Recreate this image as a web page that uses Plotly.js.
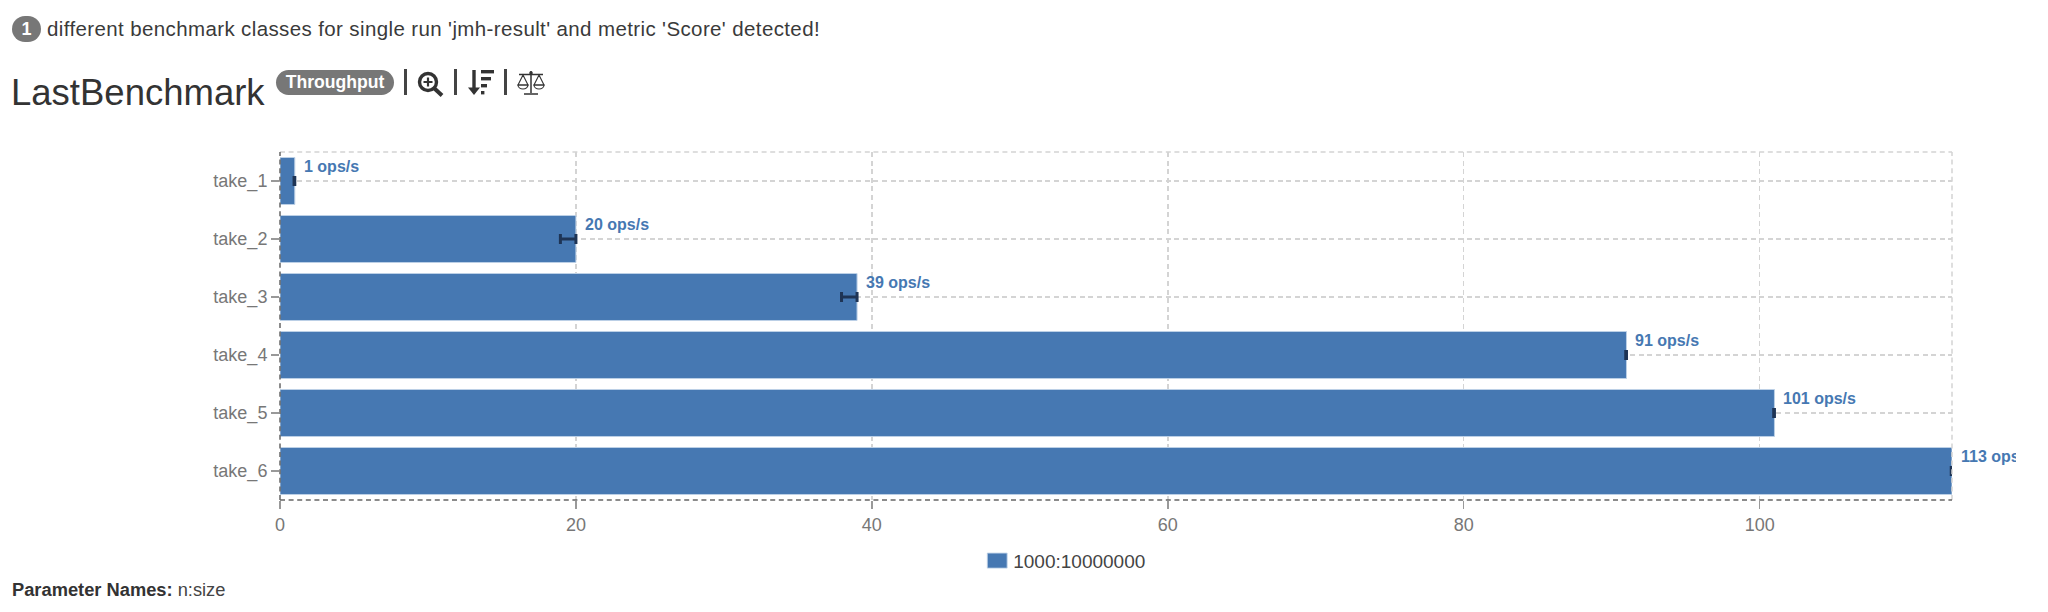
<!DOCTYPE html>
<html>
<head>
<meta charset="utf-8">
<script src="https://cdn.plot.ly/plotly-3.0.1.min.js"></script>
<style>
html,body{margin:0;padding:0;background:#fff;width:2048px;height:612px;overflow:hidden;font-family:"Liberation Sans",Arial,sans-serif;color:#333}
#chart{position:absolute;left:0;top:0;width:2016px;height:612px}
.abs{position:absolute;white-space:nowrap}
.badge{background:#777;color:#fff;font-weight:bold;text-align:center}
.sep{position:absolute;background:#444;width:3px;top:69px;height:26px}
svg.icon{position:absolute}
</style>
</head>
<body>
<div id="chart"></div>
<div class="abs badge" style="left:12px;top:16px;width:29px;height:26px;line-height:26px;border-radius:13px;font-size:18px">1</div>
<div class="abs" id="lead" style="left:47px;top:18px;font-size:20.5px;letter-spacing:0.38px;line-height:22px;color:#3a3a3a">different benchmark classes for single run 'jmh-result' and metric 'Score' detected!</div>
<div class="abs" id="ttl" style="left:11px;top:72px;font-size:36.5px;line-height:42px">LastBenchmark</div>
<div class="abs badge" style="left:276px;top:70px;width:118px;height:25px;line-height:25px;border-radius:13px;font-size:17.6px">Throughput</div>
<div class="sep" style="left:404px"></div>
<svg class="icon" style="left:416px;top:70px" width="30" height="27" viewBox="0 0 30 27">
  <circle cx="12" cy="12" r="8.5" fill="none" stroke="#333" stroke-width="3.4"/>
  <path d="M7.5 12H16.5M12 7.5V16.5" stroke="#333" stroke-width="2.2"/>
  <path d="M18.5 18.5L26 25.5" stroke="#333" stroke-width="4"/>
</svg>
<div class="sep" style="left:454px"></div>
<svg class="icon" style="left:466px;top:68px" width="30" height="29" viewBox="0 0 30 29">
  <path d="M8 2V24" stroke="#333" stroke-width="3.4"/>
  <path d="M2 19.5L8 27L14 19.5Z" fill="#333"/>
  <rect x="15" y="2" width="13" height="3.4" fill="#333"/>
  <rect x="15" y="9" width="10" height="3.4" fill="#333"/>
  <rect x="15" y="16" width="6" height="3.4" fill="#333"/>
  <rect x="15" y="23" width="3.4" height="3.4" fill="#333"/>
</svg>
<div class="sep" style="left:504px"></div>
<svg class="icon" style="left:516px;top:69px" width="30" height="27" viewBox="0 0 30 27">
  <path d="M15 2V24M8 25H22M3 5.5H27" stroke="#333" stroke-width="1.5" fill="none"/>
  <circle cx="15" cy="4" r="1.8" fill="#333"/>
  <path d="M7 6L2 16H12ZM23 6L18 16H28Z" stroke="#333" stroke-width="1.1" fill="none"/>
  <path d="M2 16A5 4 0 0 0 12 16ZM18 16A5 4 0 0 0 28 16Z" stroke="#333" stroke-width="1.1" fill="none"/>
</svg>
<div class="abs" id="pn" style="left:12px;top:580px;font-size:18.3px;line-height:20px"><b>Parameter Names:</b> <span style="color:#444">n:size</span></div>
<script>
const categories = ['take_1','take_2','take_3','take_4','take_5','take_6'];
const scores = [1, 20, 39, 91, 101, 113];
const errorsMinus = [0.05, 1.05, 1.05, 0.05, 0.05, 0.05];
const errorsPlus = [0, 0, 0, 0, 0, 0];
const seriesName = '1000:10000000';
const unit = 'ops/s';
const xTicks = [0, 20, 40, 60, 80, 100];

const BLUE = '#4678b2', GRID = '#d4d4d4', AXIS = '#666', DASH = '5px,3.6px';

const annotations = scores.map((v, i) => ({
  x: v, y: categories[i], xref: 'x', yref: 'y',
  text: '<b>' + v + ' ' + unit + '</b>', showarrow: false,
  xanchor: 'left', yanchor: 'middle', xshift: 8, yshift: 15,
  font: {family: '"Liberation Sans", Arial, sans-serif', size: 16, color: BLUE},
  borderpad: 0,
  captureevents: false
}));

const edge = (x0, y0, x1, y1, color) => ({
  type: 'line', xref: 'paper', yref: 'paper', x0, y0, x1, y1, layer: 'above',
  line: {color, width: 1.5, dash: DASH}
});

Plotly.newPlot('chart', [{
  type: 'bar', orientation: 'h', name: seriesName,
  x: scores, y: categories, width: 0.81,
  cliponaxis: false, showlegend: true,
  marker: {color: BLUE, line: {color: '#bcd0e6', width: 1}},
  error_x: {type: 'data', symmetric: false, array: errorsPlus, arrayminus: errorsMinus,
            color: '#1e3455', thickness: 3, width: 5}
}], {
  width: 2016, height: 612,
  margin: {l: 280, r: 64, t: 152, b: 112, pad: 0},
  paper_bgcolor: '#fff', plot_bgcolor: '#fff',
  font: {family: '"Liberation Sans", Arial, sans-serif', color: '#777', size: 17},
  bargap: 0.19,
  xaxis: {range: [0, 113], tickmode: 'array', tickvals: xTicks, ticks: 'outside', ticklen: 8, tickwidth: 1.5,
          tickcolor: '#999', tickfont: {size: 18, color: '#777'}, zeroline: false, showline: false,
          showgrid: true, gridcolor: GRID, gridwidth: 1.5, griddash: DASH, fixedrange: true},
  yaxis: {type: 'category', categoryorder: 'array', categoryarray: categories, range: [5.5, -0.5],
          ticks: 'outside', ticklen: 8, tickwidth: 1.5, tickcolor: '#999',
          tickfont: {size: 18, color: '#777'}, zeroline: false, showline: false,
          showgrid: true, gridcolor: GRID, gridwidth: 1.5, griddash: DASH, fixedrange: true},
  legend: {orientation: 'h', x: 0.417, xanchor: 'left', y: -0.12, yanchor: 'top',
           font: {size: 19, color: '#444'}, bgcolor: 'rgba(0,0,0,0)', itemclick: false, itemdoubleclick: false},
  annotations,
  shapes: [
    edge(0, 1, 1, 1, GRID),
    edge(1, 0, 1, 1, GRID),
    edge(0, 0, 1, 0, AXIS),
    edge(0, 0, 0, 1, AXIS)
  ],
  hovermode: false
}, {displayModeBar: false, staticPlot: true}).then(() => {
  document.querySelectorAll('#chart .legend .legendpoints path').forEach(p => {
    p.setAttribute('transform', p.getAttribute('transform') + ' scale(1.65,1.25)');
    p.style.strokeWidth = '0.6px';
  });
  document.querySelectorAll('#chart .legend .legendtext').forEach(t => {
    t.setAttribute('x', parseFloat(t.getAttribute('x')) - 4);
  });
});
</script>
</body>
</html>
